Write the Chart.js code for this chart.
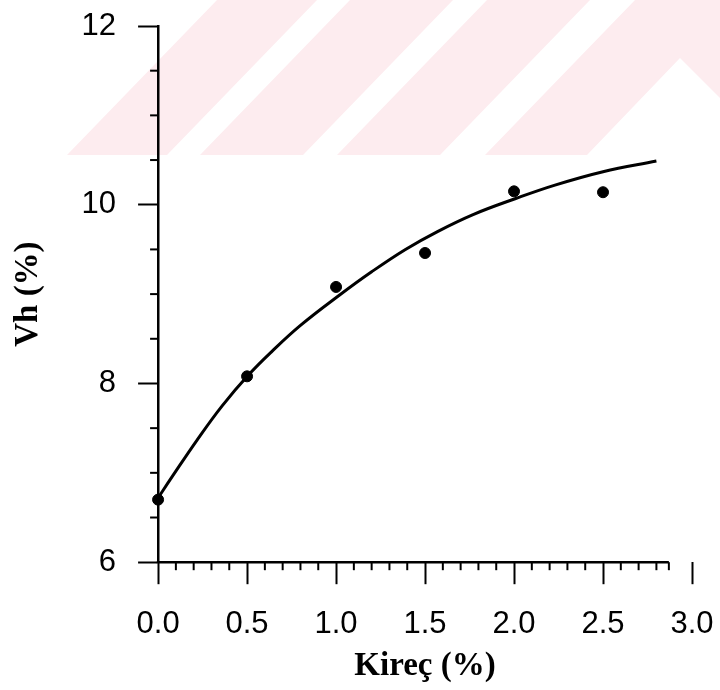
<!DOCTYPE html>
<html>
<head>
<meta charset="utf-8">
<script src="https://cdn.jsdelivr.net/npm/chart.js@4.4.1/dist/chart.umd.min.js"></script>
<style>
  html, body { margin: 0; padding: 0; background: #ffffff; }
  canvas { display: block; }
</style>
</head>
<body>
<canvas id="c" width="720" height="690"></canvas>
<script>
// ---- data ----
const kirec = [0.0, 0.5, 1.0, 1.5, 2.0, 2.5];
const vh = [6.70, 8.08, 9.08, 9.46, 10.15, 10.14];

const fitKirec = [0.00, 0.08, 0.22, 0.36, 0.51, 0.64, 0.80, 1.02, 1.20, 1.39, 1.57, 1.77, 2.01, 2.23, 2.50, 2.80];
const fitVh    = [6.72, 6.96, 7.37, 7.75, 8.10, 8.36, 8.65, 8.99, 9.25, 9.50, 9.70, 9.89, 10.07, 10.22, 10.37, 10.49];

const xTicks = [0.0, 0.5, 1.0, 1.5, 2.0, 2.5, 3.0];
const yTicks = [6, 8, 10, 12];
const xMinorTicks = [0.1, 0.2, 0.3, 0.4, 0.6, 0.7, 0.8, 0.9, 1.1, 1.2, 1.3, 1.4, 1.6, 1.7, 1.8, 1.9, 2.1, 2.2, 2.3, 2.4, 2.6, 2.7, 2.8, 2.87];
const yMinorTicks = [6.5, 7, 7.5, 8.5, 9, 9.5, 10.5, 11, 11.5];
const xAxisLineEnd = 2.87;

const xTitle = 'Kireç (%)';
const yTitle = 'Vh (%)';

// ---- background watermark (scan artefact) ----
const watermarkPlugin = {
  id: 'watermark',
  beforeDraw(chart) {
    const ctx = chart.ctx;
    ctx.save();
    ctx.fillStyle = '#fdecef';
    const polys = [
      [[67,155],[167,155],[317,0],[217,0]],
      [[200,155],[303,155],[453,0],[350,0]],
      [[337,155],[440,155],[590,0],[487,0]],
      [[485,155],[587,155],[680,58],[720,98],[720,0],[635,0]]
    ];
    polys.forEach(p => {
      ctx.beginPath();
      ctx.moveTo(p[0][0], p[0][1]);
      for (let i = 1; i < p.length; i++) ctx.lineTo(p[i][0], p[i][1]);
      ctx.closePath();
      ctx.fill();
    });
    ctx.restore();
  }
};

// ---- x axis line and minor ticks drawn through the scales ----
const minorTickPlugin = {
  id: 'minorTicks',
  afterDatasetsDraw(chart) {
    const xs = chart.scales.x, ys = chart.scales.y;
    const ctx = chart.ctx;
    ctx.save();
    ctx.strokeStyle = '#000';
    ctx.lineCap = 'butt';
    const y0 = ys.getPixelForValue(6);
    ctx.lineWidth = 2.5;
    ctx.beginPath();
    ctx.moveTo(xs.getPixelForValue(0) - 1.25, y0);
    ctx.lineTo(xs.getPixelForValue(xAxisLineEnd), y0);
    ctx.stroke();
    ctx.lineWidth = 2;
    xMinorTicks.forEach(v => {
      const px = xs.getPixelForValue(v);
      ctx.beginPath();
      ctx.moveTo(px, y0);
      ctx.lineTo(px, y0 + 8);
      ctx.stroke();
    });
    const x0 = xs.getPixelForValue(0);
    yMinorTicks.forEach(v => {
      const py = ys.getPixelForValue(v);
      ctx.beginPath();
      ctx.moveTo(x0, py);
      ctx.lineTo(x0 - 8, py);
      ctx.stroke();
    });
    ctx.restore();
  }
};

new Chart(document.getElementById('c'), {
  type: 'scatter',
  data: {
    datasets: [
      {
        type: 'line',
        label: 'fit',
        data: fitKirec.map((x, i) => ({ x: x, y: fitVh[i] })),
        borderColor: '#000',
        borderWidth: 3,
        pointRadius: 0,
        tension: 0.4,
        fill: false,
        clip: false
      },
      {
        label: 'Vh',
        data: kirec.map((x, i) => ({ x: x, y: vh[i] })),
        backgroundColor: '#000',
        borderColor: '#000',
        pointRadius: 5.5,
        pointHoverRadius: 5.5,
        clip: false
      }
    ]
  },
  options: {
    responsive: false,
    animation: false,
    events: [],
    layout: { padding: { left: 6, top: 26, right: 28, bottom: 4 } },
    plugins: {
      legend: { display: false },
      tooltip: { enabled: false }
    },
    scales: {
      x: {
        type: 'linear',
        min: 0,
        max: 3,
        afterBuildTicks: s => { s.ticks = xTicks.map(v => ({ value: v })); },
        afterFit: s => { s.paddingLeft = 0; s.paddingRight = 0; },
        border: { display: false },
        grid: {
          drawOnChartArea: false,
          drawTicks: true,
          tickLength: 22,
          tickWidth: 2,
          tickColor: '#000'
        },
        ticks: {
          color: '#000',
          padding: 22,
          maxRotation: 0,
          autoSkip: false,
          font: { family: 'Liberation Sans', size: 31 },
          callback: v => Number(v).toFixed(1)
        },
        title: {
          display: true,
          text: xTitle,
          color: '#000',
          padding: { top: -19, bottom: 0 },
          font: { family: 'Liberation Serif', size: 33, weight: 'bold' }
        }
      },
      y: {
        type: 'linear',
        min: 6,
        max: 12,
        afterBuildTicks: s => { s.ticks = yTicks.map(v => ({ value: v })); },
        afterFit: s => { s.paddingTop = 0; s.paddingBottom = 0; },
        border: { display: true, color: '#000', width: 2.5 },
        grid: {
          drawOnChartArea: false,
          drawTicks: true,
          tickLength: 20,
          tickWidth: 2,
          tickColor: '#000'
        },
        ticks: {
          color: '#000',
          padding: 22,
          autoSkip: false,
          font: { family: 'Liberation Sans', size: 31 },
          callback: v => String(v)
        },
        title: {
          display: true,
          text: yTitle,
          color: '#000',
          padding: { top: 3, bottom: 11 },
          font: { family: 'Liberation Serif', size: 33, weight: 'bold' }
        }
      }
    }
  },
  plugins: [watermarkPlugin, minorTickPlugin]
});
</script>
</body>
</html>
